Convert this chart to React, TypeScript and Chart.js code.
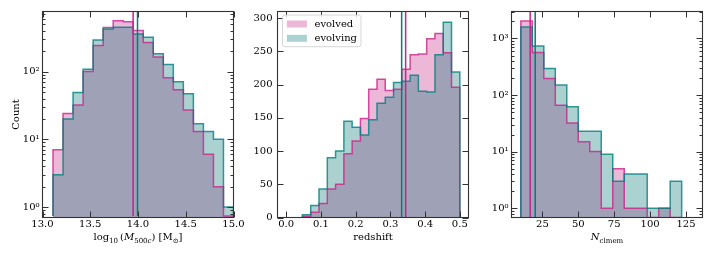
import React, { useEffect, useRef } from "react";
import { Chart, registerables } from "chart.js";

Chart.register(...registerables);

// ---------------- data ----------------
const SERIES_LABELS = ["evolved", "evolving"];

// Panel 1: log10(M500c)
const MASS_EDGES = [13.11, 13.215, 13.32, 13.425, 13.53, 13.635, 13.74, 13.845, 13.95, 14.055, 14.16, 14.265, 14.37, 14.475, 14.58, 14.685, 14.79, 14.895, 15.0];
const MASS_EVOLVED = [7, 24, 32, 100, 243, 447, 566, 547, 404, 269, 164, 81, 54, 27, 13, 6, 2, 0];
const MASS_EVOLVING = [3, 20, 49, 108, 294, 426, 451, 451, 360, 322, 184, 127, 71, 47, 17, 13, 10, 1];
const MASS_MEDIANS = [13.949, 13.995];
const MASS_X_TICKS = [13.0, 13.5, 14.0, 14.5, 15.0];
const MASS_Y_TICKS = [1, 10, 100];

// Panel 2: redshift
const Z_EDGES = [0.0468, 0.0707, 0.0945, 0.1184, 0.1422, 0.1661, 0.1899, 0.2138, 0.2376, 0.2615, 0.2853, 0.3092, 0.333, 0.3569, 0.3807, 0.4046, 0.4284, 0.4523, 0.4761, 0.5];
const Z_EVOLVED = [2, 8, 21, 43, 50, 96, 115, 149, 193, 208, 191, 193, 223, 245, 246, 269, 277, 248, 196];
const Z_EVOLVING = [4, 18, 43, 90, 100, 145, 136, 124, 147, 172, 181, 203, 205, 214, 190, 189, 245, 294, 219];
const Z_MEDIANS = [0.344, 0.3325];
const Z_X_TICKS = [0.0, 0.1, 0.2, 0.3, 0.4, 0.5];
const Z_Y_TICKS = [0, 50, 100, 150, 200, 250, 300];

// Panel 3: N_clmem
const N_EDGES = [10, 18, 26, 34, 42, 50, 58, 66, 74, 82, 90, 98, 106, 114, 122];
const N_EVOLVED = [2037, 564, 196, 66, 32, 15, 10, 1, 5, 1, 1, 0, 1, 0];
const N_EVOLVING = [1596, 738, 295, 150, 62, 23, 23, 9, 3, 4, 4, 1, 1, 3];
const N_MEDIANS = [16.5, 20];
const N_X_TICKS = [25, 50, 75, 100, 125];
const N_Y_TICKS = [1, 10, 100, 1000];

// ---------------- style ----------------
const W = 714;
const H = 255;
const FONT = '"DejaVu Serif", serif';
const TEXT_COLOR = "#000000";
const AXIS_COLOR = "#333333";
const PINK = "rgb(204,32,140)";
const TEAL = "rgb(0,125,122)";
const PINK_FILL = "rgba(201,35,138,0.33)";
const TEAL_FILL = "rgba(0,118,114,0.33)";
const PINK_EDGE = "rgba(201,35,138,0.8)";
const TEAL_EDGE = "rgba(0,128,125,0.8)";
const Y_AXIS_W = 40;
const X_AXIS_H = 20;
const AREA_TOP = 11.5;
const AREA_BOTTOM = 217.5;
const AREA_W = 191;
const MAJOR = 6;
const MINOR = 3;

type Seg = { t: string; it?: boolean; sub?: boolean };

type PanelSpec = {
  edges: number[];
  evolved: number[];
  evolving: number[];
  medians: number[];
  xTicks: number[];
  yTicks: number[];
  xMin: number;
  xMax: number;
  yMin: number;
  yMax: number;
  log: boolean;
  xFmt: (v: number) => string;
  title: Seg[];
  yTitle?: string;
  left: number;
  yPad: number;
  legend: boolean;
};

const SUP: Record<string, string> = { "0": "\u2070", "1": "\u00b9", "2": "\u00b2", "3": "\u00b3", "4": "\u2074", "-": "\u207b" };
const supText = (n: number) => String(n).split("").map((c) => SUP[c] || c).join("");

const PANELS: PanelSpec[] = [
  {
    edges: MASS_EDGES, evolved: MASS_EVOLVED, evolving: MASS_EVOLVING, medians: MASS_MEDIANS,
    xTicks: MASS_X_TICKS, yTicks: MASS_Y_TICKS, xMin: 13, xMax: 15, yMin: 0.735, yMax: 773, log: true,
    xFmt: (v) => v.toFixed(1),
    title: [{ t: "log" }, { t: "10", sub: true }, { t: "\u2009(" }, { t: "M", it: true }, { t: "500", sub: true }, { t: "c", sub: true, it: true }, { t: ") [M" }, { t: "\u2299", sub: true }, { t: "]" }],
    yTitle: "Count", left: 42.5, yPad: 3, legend: false,
  },
  {
    edges: Z_EDGES, evolved: Z_EVOLVED, evolving: Z_EVOLVING, medians: Z_MEDIANS,
    xTicks: Z_X_TICKS, yTicks: Z_Y_TICKS, xMin: -0.025, xMax: 0.525, yMin: 0, yMax: 310, log: false,
    xFmt: (v) => v.toFixed(1),
    title: [{ t: "redshift" }], left: 277.5, yPad: 5, legend: true,
  },
  {
    edges: N_EDGES, evolved: N_EVOLVED, evolving: N_EVOLVING, medians: N_MEDIANS,
    xTicks: N_X_TICKS, yTicks: N_Y_TICKS, xMin: 3.5, xMax: 136.5, yMin: 0.684, yMax: 3000, log: true,
    xFmt: (v) => String(Math.round(v)),
    title: [{ t: "N", it: true }, { t: "clmem", sub: true }], left: 511.5, yPad: 3, legend: false,
  },
];

function histPoints(edges: number[], counts: number[], base: number) {
  const pts: { x: number; y: number }[] = [{ x: edges[0], y: base }];
  for (let i = 0; i < counts.length; i++) {
    pts.push({ x: edges[i], y: counts[i] > 0 ? counts[i] : base });
  }
  const last = counts[counts.length - 1];
  const end = edges[edges.length - 1];
  pts.push({ x: end, y: last > 0 ? last : base });
  pts.push({ x: end, y: base });
  return pts;
}

function drawRich(ctx: CanvasRenderingContext2D, segs: Seg[], cx: number, baseline: number, size: number) {
  const fontFor = (s: Seg) => `${s.it ? "italic " : ""}${s.sub ? size * 0.7 : size}px ${FONT}`;
  let total = 0;
  for (const s of segs) {
    ctx.font = fontFor(s);
    total += ctx.measureText(s.t).width;
  }
  let x = cx - total / 2;
  ctx.textAlign = "left";
  ctx.textBaseline = "alphabetic";
  for (const s of segs) {
    ctx.font = fontFor(s);
    ctx.fillText(s.t, x, baseline + (s.sub ? size * 0.25 : 0));
    x += ctx.measureText(s.t).width;
  }
}

function makeFramePlugin(p: PanelSpec) {
  return {
    id: "frame",
    afterDraw(chart: any) {
      const ctx: CanvasRenderingContext2D = chart.ctx;
      const a = chart.chartArea;
      const xs = chart.scales.x;
      const ys = chart.scales.y;
      ctx.save();
      ctx.strokeStyle = AXIS_COLOR;
      ctx.lineWidth = 1;
      ctx.beginPath();
      for (const v of p.xTicks) {
        const px = Math.round(xs.getPixelForValue(v)) + 0.5;
        ctx.moveTo(px, a.bottom);
        ctx.lineTo(px, a.bottom - MAJOR);
        ctx.moveTo(px, a.top);
        ctx.lineTo(px, a.top + MAJOR);
      }
      for (const v of p.yTicks) {
        const py = Math.round(ys.getPixelForValue(v)) + 0.5;
        ctx.moveTo(a.left, py);
        ctx.lineTo(a.left + MAJOR, py);
        ctx.moveTo(a.right, py);
        ctx.lineTo(a.right - MAJOR, py);
      }
      if (p.log) {
        const d0 = Math.floor(Math.log10(p.yMin));
        const d1 = Math.ceil(Math.log10(p.yMax));
        for (let d = d0; d <= d1; d++) {
          for (let m = 2; m <= 9; m++) {
            const v = m * Math.pow(10, d);
            if (v < p.yMin || v > p.yMax) continue;
            const py = Math.round(ys.getPixelForValue(v)) + 0.5;
            ctx.moveTo(a.left, py);
            ctx.lineTo(a.left + MINOR, py);
            ctx.moveTo(a.right, py);
            ctx.lineTo(a.right - MINOR, py);
          }
        }
      }
      ctx.stroke();
      ctx.lineWidth = 1.1;
      ctx.strokeRect(a.left, a.top, a.right - a.left, a.bottom - a.top);

      // axis titles
      ctx.fillStyle = TEXT_COLOR;
      drawRich(ctx, p.title, (a.left + a.right) / 2, 240, 10);
      if (p.yTitle) {
        ctx.save();
        ctx.translate(18.5, (a.top + a.bottom) / 2);
        ctx.rotate(-Math.PI / 2);
        ctx.font = `10px ${FONT}`;
        ctx.textAlign = "center";
        ctx.textBaseline = "alphabetic";
        ctx.fillText(p.yTitle, 0, 0);
        ctx.restore();
      }

      // legend
      if (p.legend) {
        const bx = a.left + 5;
        const by = a.top + 3.5;
        const bw = 78.5;
        const bh = 31.7;
        ctx.beginPath();
        const r = 2.5;
        ctx.moveTo(bx + r, by);
        ctx.lineTo(bx + bw - r, by);
        ctx.arcTo(bx + bw, by, bx + bw, by + r, r);
        ctx.lineTo(bx + bw, by + bh - r);
        ctx.arcTo(bx + bw, by + bh, bx + bw - r, by + bh, r);
        ctx.lineTo(bx + r, by + bh);
        ctx.arcTo(bx, by + bh, bx, by + bh - r, r);
        ctx.lineTo(bx, by + r);
        ctx.arcTo(bx, by, bx + r, by, r);
        ctx.closePath();
        ctx.fillStyle = "rgba(255,255,255,0.8)";
        ctx.fill();
        ctx.strokeStyle = "rgba(204,204,204,0.8)";
        ctx.lineWidth = 1;
        ctx.stroke();
        const fills = [PINK_FILL, TEAL_FILL];
        const rows = [by + 5.5, by + 19.8];
        ctx.font = `10px ${FONT}`;
        ctx.textAlign = "left";
        ctx.textBaseline = "middle";
        for (let i = 0; i < 2; i++) {
          ctx.fillStyle = fills[i];
          ctx.fillRect(bx + 4.4, rows[i], 20, 7);
          ctx.fillStyle = TEXT_COLOR;
          ctx.fillText(SERIES_LABELS[i], bx + 32, rows[i] + 3.8);
        }
      }
      ctx.restore();
    },
  };
}

function buildConfig(p: PanelSpec) {
  const base = p.yMin;
  const common = { stepped: true, pointRadius: 0, showLine: true, tension: 0 };
  const median = (m: number) => [
    { x: m, y: p.yMin },
    { x: m, y: p.yMax },
  ];
  const datasets: any[] = [
    { ...common, label: SERIES_LABELS[0], data: histPoints(p.edges, p.evolved, base), fill: "start", backgroundColor: PINK_FILL, borderColor: "transparent", borderWidth: 0, order: 6 },
    { ...common, label: SERIES_LABELS[1], data: histPoints(p.edges, p.evolving, base), fill: "start", backgroundColor: TEAL_FILL, borderColor: "transparent", borderWidth: 0, order: 5 },
    { ...common, label: SERIES_LABELS[0] + " outline", data: histPoints(p.edges, p.evolved, base), fill: false, borderColor: PINK_EDGE, borderWidth: 1.5, order: 4 },
    { ...common, label: SERIES_LABELS[1] + " outline", data: histPoints(p.edges, p.evolving, base), fill: false, borderColor: TEAL_EDGE, borderWidth: 1.5, order: 3 },
    { label: SERIES_LABELS[0] + " median", data: median(p.medians[0]), fill: false, borderColor: PINK, borderWidth: 1.5, pointRadius: 0, order: 2 },
    { label: SERIES_LABELS[1] + " median", data: median(p.medians[1]), fill: false, borderColor: TEAL, borderWidth: 1.5, pointRadius: 0, order: 1 },
  ];
  const padLeft = p.left - Y_AXIS_W;
  const padRight = W - (p.left + AREA_W);
  const padBottom = H - AREA_BOTTOM - X_AXIS_H;
  return {
    type: "line",
    data: { datasets },
    options: {
      animation: false,
      responsive: false,
      maintainAspectRatio: false,
      devicePixelRatio: 1,
      events: [],
      layout: { padding: { left: padLeft, right: padRight, top: AREA_TOP, bottom: padBottom } },
      plugins: { legend: { display: false }, tooltip: { enabled: false } },
      scales: {
        x: {
          type: "linear",
          min: p.xMin,
          max: p.xMax,
          afterBuildTicks: (s: any) => {
            s.ticks = p.xTicks.map((v) => ({ value: v }));
          },
          afterFit: (s: any) => {
            s.height = X_AXIS_H;
            s.paddingLeft = 0;
            s.paddingRight = 0;
          },
          ticks: {
            autoSkip: false,
            maxRotation: 0,
            minRotation: 0,
            padding: 1,
            color: TEXT_COLOR,
            font: { family: FONT, size: 10 },
            callback: (v: any) => p.xFmt(Number(v)),
          },
          grid: { display: false, drawTicks: false },
          border: { display: false },
        },
        y: {
          type: p.log ? "logarithmic" : "linear",
          min: p.yMin,
          max: p.yMax,
          afterBuildTicks: (s: any) => {
            s.ticks = p.yTicks.map((v) => ({ value: v }));
          },
          afterFit: (s: any) => {
            s.width = Y_AXIS_W;
            s.paddingTop = 0;
            s.paddingBottom = 0;
          },
          ticks: {
            autoSkip: false,
            padding: p.yPad,
            color: TEXT_COLOR,
            font: { family: FONT, size: 10 },
            callback: (v: any) => (p.log ? "10" + supText(Math.round(Math.log10(Number(v)))) : String(v)),
          },
          grid: { display: false, drawTicks: false },
          border: { display: false },
        },
      },
    },
    plugins: [makeFramePlugin(p)],
  };
}

function Panel({ spec }: { spec: PanelSpec }) {
  const ref = useRef<HTMLCanvasElement | null>(null);
  useEffect(() => {
    if (!ref.current) return;
    const chart = new Chart(ref.current, buildConfig(spec) as any);
    return () => chart.destroy();
  }, [spec]);
  return (
    <canvas
      ref={ref}
      width={W}
      height={H}
      style={{ position: "absolute", left: 0, top: 0, width: W, height: H }}
    />
  );
}

export default function App() {
  return (
    <div style={{ position: "absolute", left: 0, top: 0, width: W, height: H, background: "#ffffff" }}>
      {PANELS.map((p, i) => (
        <Panel key={i} spec={p} />
      ))}
    </div>
  );
}
